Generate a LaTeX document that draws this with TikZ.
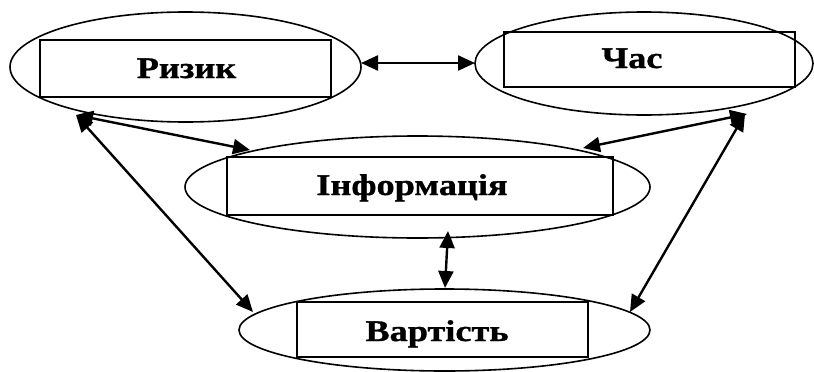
\documentclass[tikz,border=0pt]{standalone}
\usepackage{fontspec}
\newfontfamily\lblfont{Liberation Serif}[FakeStretch=1.21,FakeBold=1]
\usetikzlibrary{shapes.geometric,arrows.meta}
\begin{document}
\begin{tikzpicture}[x=1pt,y=-1pt,
  oval/.style={draw,ellipse,line width=1.6pt,inner sep=0pt,outer sep=0pt},
  box/.style={draw,rectangle,line width=1.7pt,inner sep=0pt,outer sep=0pt},
  lbl/.style={anchor=base,inner sep=0pt,font=\lblfont\bfseries\fontsize{30}{32}\selectfont},
  arr/.style={line width=2.4pt,{Triangle[length=17pt,width=15pt]}-{Triangle[length=17pt,width=15pt]}}]
\useasboundingbox (0,0) rectangle (814,372);
% ellipses
\node[oval,minimum width=351pt,minimum height=110pt] (ro) at (185.5,67) {};
\node[oval,minimum width=338pt,minimum height=103pt] (co) at (644,63.5) {};
\node[oval,minimum width=465pt,minimum height=102pt] (io) at (417.5,187) {};
\node[oval,minimum width=411pt,minimum height=82pt] (vo) at (444.5,330) {};
% boxes
\node[box,minimum width=291pt,minimum height=57pt] (rb) at (185.5,68.5) {};
\node[box,minimum width=291pt,minimum height=55pt] (cb) at (649.5,59.5) {};
\node[box,minimum width=386pt,minimum height=58pt] (ib) at (420,186) {};
\node[box,minimum width=291pt,minimum height=55pt] (vb) at (442.5,329.5) {};
% labels
\node[lbl] (rt) at (186.5,78) {Ризик};
\node[lbl] (ct) at (632,68) {Час};
\node[lbl] (it) at (412,195) {Інформація};
\node[lbl] (vt) at (437,341) {Вартість};
% connector ends
\coordinate (rE) at (361,63);
\coordinate (cW) at (475,63);
\coordinate (rSW) at (76,115);
\coordinate (iNW) at (250,150);
\coordinate (vNW) at (253,312);
\coordinate (cSE) at (747,114);
\coordinate (cSE2) at (745,114);
\coordinate (iNE) at (583,148);
\coordinate (vNE) at (630,312);
\coordinate (iS) at (448,231);
\coordinate (vN) at (445,288);
% connectors
\draw[arr] (rE) -- (cW);
\draw[arr] (rSW) -- (iNW);
\draw[arr] (rSW) -- (vNW);
\draw[arr] (cSE) -- (iNE);
\draw[arr] (cSE2) -- (vNE);
\draw[arr] (iS) -- (vN);
\end{tikzpicture}
\end{document}
